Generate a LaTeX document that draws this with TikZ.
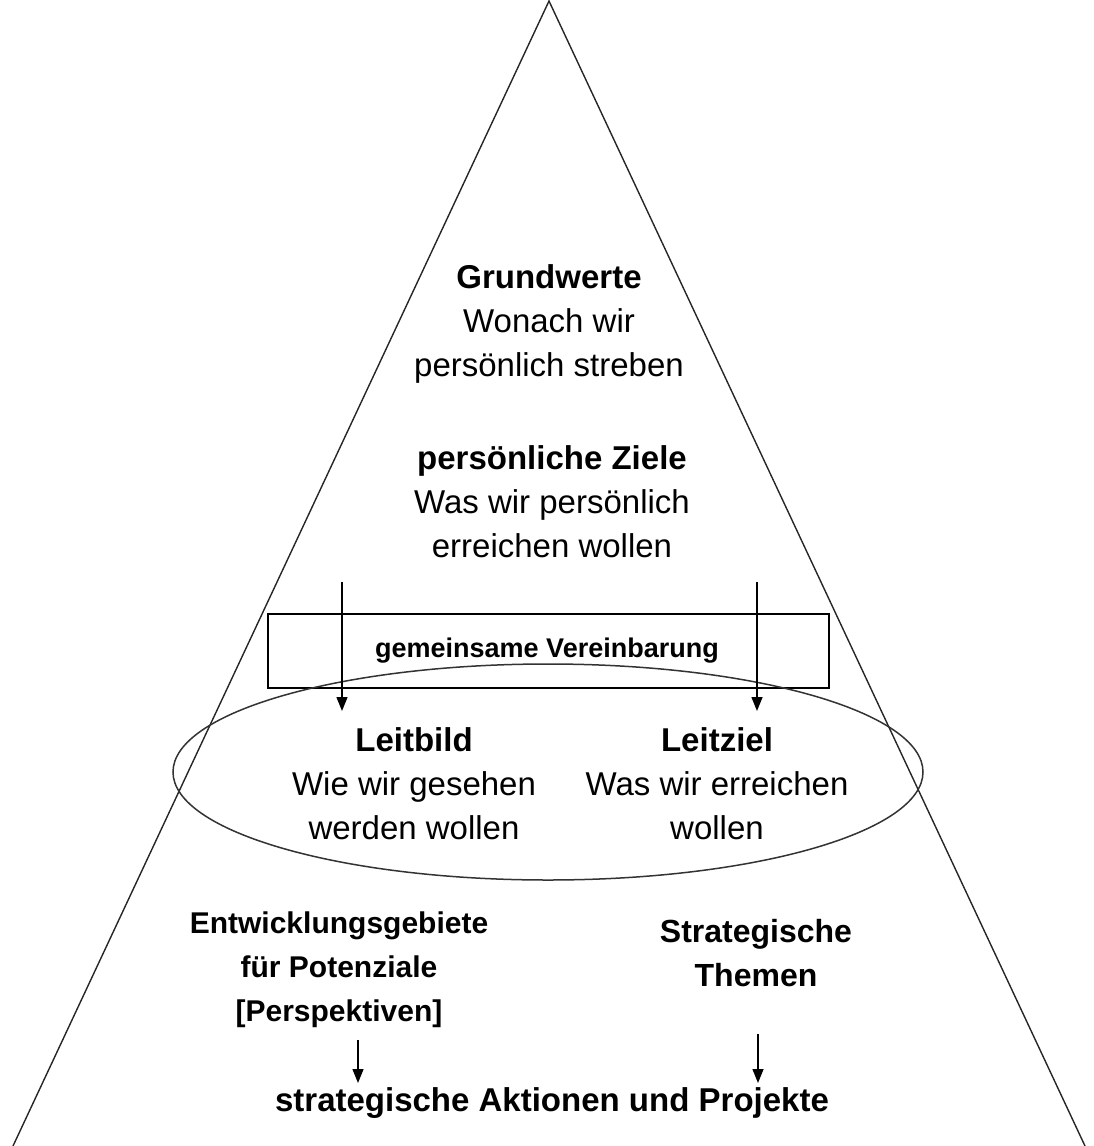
\documentclass[tikz,border=0pt]{standalone}
\usepackage{fontspec}
\setmainfont{Liberation Sans}
\usetikzlibrary{arrows.meta,shapes.geometric}
\begin{document}
\begin{tikzpicture}[x=1pt,y=-1pt,
  txt/.style={align=center,inner sep=0pt,font=\fontsize{33}{44}\selectfont},
  btxt/.style={align=center,inner sep=0pt,font=\fontsize{#1}{44}\selectfont\bfseries},
  smalltxt/.style={align=center,inner sep=0pt,font=\fontsize{27}{34}\selectfont\bfseries},
  edge/.style={line width=1.4pt,draw=black!85},
  arr/.style={line width=1.4pt,-{Triangle[length=14pt,width=11pt]}}]
\useasboundingbox (0,0) rectangle (1093,1146);
% pyramid outline
\coordinate (apex) at (549,1);
\coordinate (bl) at (13,1146);
\coordinate (br) at (1085,1146);
\draw[edge] (bl) -- (apex) -- (br);
\draw[line width=1pt,draw=black!35] (bl) -- (br);
% upper levels
\node[txt] (grund) at (549,324) {\textbf{Grundwerte}\\Wonach wir\\persönlich streben};
\node[txt] (ziele) at (552,502) {\textbf{persönliche Ziele}\\Was wir persönlich\\erreichen wollen};
% agreement box and ellipse
\node[draw,line width=1.8pt,minimum width=561pt,minimum height=74pt,inner sep=0pt] (box) at (548.5,651) {};
\node[smalltxt] (boxtxt) at (547,651) {gemeinsame Vereinbarung};
\node[draw=black!80,line width=1.5pt,ellipse,minimum width=750pt,minimum height=216pt,inner sep=0pt] (ell) at (548,772) {};
\node[txt] (leitbild) at (414,784) {\textbf{Leitbild}\\Wie wir gesehen\\werden wollen};
\node[txt] (leitziel) at (717,784) {\textbf{Leitziel}\\Was wir erreichen\\wollen};
\coordinate (la0) at (342,582);
\coordinate (la1) at (342,711);
\coordinate (ra0) at (757,582);
\coordinate (ra1) at (757,711);
\draw[arr] (la0) -- (la1);
\draw[arr] (ra0) -- (ra1);
% lower levels
\node[btxt=30] (entw) at (339,970) {Entwicklungsgebiete\\für Potenziale\\{[}Perspektiven{]}};
\node[btxt=32] (themen) at (756,953) {Strategische\\Themen};
\node[btxt=33] (aktion) at (552,1103) {strategische Aktionen und Projekte};
\coordinate (lb0) at (358,1040);
\coordinate (lb1) at (358,1083);
\coordinate (rb0) at (758,1034);
\coordinate (rb1) at (758,1083);
\draw[arr] (lb0) -- (lb1);
\draw[arr] (rb0) -- (rb1);
\end{tikzpicture}
\end{document}
